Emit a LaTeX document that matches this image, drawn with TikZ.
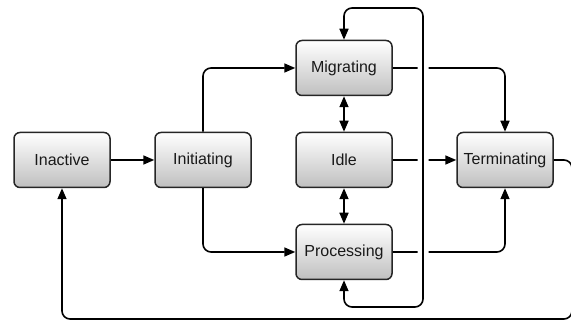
\documentclass[tikz,border=0pt]{standalone}
\usepackage{fontspec}
\setmainfont{Liberation Sans}
\usetikzlibrary{arrows.meta}
\begin{document}
\begin{tikzpicture}[x=1pt,y=-1pt,
  state/.style={draw=black!85,line width=1.5pt,rounded corners=6pt,top color=white,bottom color=black!25,
    minimum width=96pt,minimum height=55pt,inner sep=0pt,text=black!90,font=\fontsize{16}{19}\selectfont},
  conn/.style={line width=1.6pt,rounded corners=8pt,-{Triangle[length=11pt,width=9pt]}},
  both/.style={line width=1.6pt,{Triangle[length=11pt,width=9pt]}-{Triangle[length=11pt,width=9pt]}},
  jumper/.style={preaction={draw=white,line width=11pt,-,shorten >=4pt,shorten <=4pt}}]
\useasboundingbox (0,0) rectangle (571,320);
\clip (0,0) rectangle (571,320);
\node[state] (inactive) at (62,160) {Inactive};
\node[state] (initiating) at (203,160) {Initiating};
\node[state] (migrating) at (344,68) {Migrating};
\node[state] (idle) at (344,160) {Idle};
\node[state] (processing) at (344,252) {Processing};
\node[state] (terminating) at (505,160) {Terminating};
\coordinate (loopTL) at (344,8);
\coordinate (loopTR) at (423,8);
\coordinate (loopBR) at (423,307);
\coordinate (loopBL) at (344,307);
\coordinate (retR1) at (572,160);
\coordinate (retR2) at (572,319);
\coordinate (retL) at (62,319);
\draw[conn] (inactive) -- (initiating);
\draw[conn] (initiating.north) |- (migrating.west);
\draw[conn] (initiating.south) |- (processing.west);
\draw[both] (migrating) -- (idle);
\draw[both] (idle) -- (processing);
\draw[conn] (migrating.east) -| (terminating.north);
\draw[conn] (idle) -- (terminating);
\draw[conn] (processing.east) -| (terminating.south);
\draw[conn] (terminating.east) -- (retR1) -- (retR2) -- (retL) -- (inactive.south);
\draw[conn,jumper,{Triangle[length=11pt,width=9pt]}-{Triangle[length=11pt,width=9pt]}]
  (migrating.north) -- (loopTL) -- (loopTR) -- (loopBR) -- (loopBL) -- (processing.south);
\end{tikzpicture}
\end{document}
